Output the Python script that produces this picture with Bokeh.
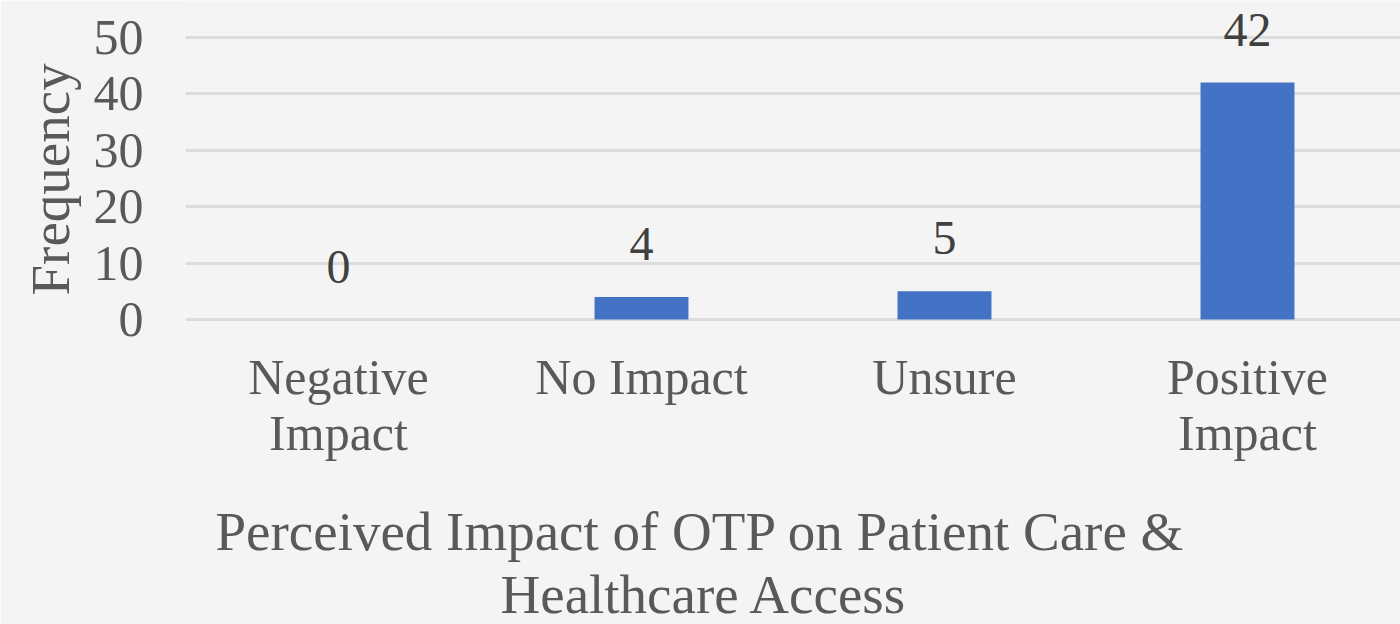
from bokeh.plotting import figure
from bokeh.models import Range1d, FixedTicker, ColumnDataSource, Title
from bokeh.embed import file_html
from bokeh.resources import INLINE
from bokeh.core.properties import value

categories = ["Negative\nImpact", "No Impact", "Unsure", "Positive\nImpact"]
frequency = [0, 4, 5, 42]
y_ticks = [0, 10, 20, 30, 40, 50]
x_title_lines = ["Perceived Impact of OTP on Patient Care &", "Healthcare Access"]
y_title = "Frequency"

FONT = "Liberation Serif"
BG = "#f4f4f4"
GRAY = "#595959"

xs = list(range(len(categories)))
src = ColumnDataSource(dict(x=xs, y=frequency, lbl=[str(v) for v in frequency]))

X0, X1 = -0.505, 3.505
Y0, Y1 = -0.53, 56.56
p = figure(width=1400, height=624, output_backend="svg", toolbar_location=None,
           x_range=Range1d(X0, X1), y_range=Range1d(Y0, Y1),
           min_border_left=185, min_border_right=0, min_border_top=0, min_border_bottom=302,
           background_fill_color=BG, border_fill_color=BG, outline_line_color=None)

p.vbar(x="x", top="y", bottom=0, width=0.31, source=src, color="#4472C4", line_color=None)
p.text(x="x", y="y", text="lbl", source=src, text_align="center", text_baseline="alphabetic",
       y_offset=-53, text_font=value(FONT), text_font_size="48px", text_color="#404040")

p.xaxis.ticker = FixedTicker(ticks=xs)
p.xaxis.major_label_overrides = {i: c for i, c in zip(xs, categories)}
p.yaxis.ticker = FixedTicker(ticks=y_ticks)

for ax in (p.xaxis, p.yaxis):
    ax.axis_line_color = None
    ax.major_tick_line_color = None
    ax.minor_tick_line_color = None
    ax.major_label_text_font = FONT
    ax.major_label_text_font_size = "50px"
    ax.major_label_text_color = GRAY

p.xaxis.major_label_text_line_height = 1.0
p.xaxis.major_label_standoff = 20
p.yaxis.major_label_standoff = 36

# blank spacer between the category labels and the axis title
p.add_layout(Title(text=" ", standoff=32, text_font=FONT, text_font_size="1px"), "below")
for line, off in zip(x_title_lines, [30, 315]):
    p.add_layout(Title(text=line, align="left", offset=off, standoff=0,
                       text_font=FONT, text_font_size="55px", text_font_style="normal",
                       text_color=GRAY, text_line_height=0.9), "below")
p.add_layout(Title(text=y_title, align="left", offset=27, standoff=20,
                   text_font=FONT, text_font_size="55px", text_font_style="normal",
                   text_color=GRAY), "left")

p.xgrid.grid_line_color = None
p.ygrid.grid_line_color = "#dcdcdc"
p.ygrid.grid_line_width = 3

open("out.html", "w").write(file_html(p, INLINE))
